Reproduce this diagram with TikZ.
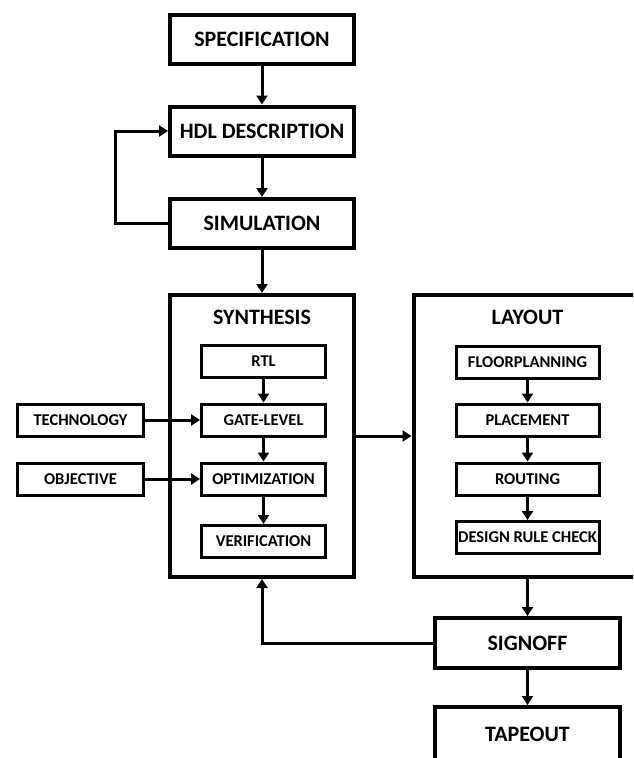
\documentclass[tikz,border=0pt]{standalone}
\usepackage{fontspec}
\setmainfont{Carlito}
\usetikzlibrary{arrows.meta}
\begin{document}
\begin{tikzpicture}[x=1pt,y=-1pt,
    bigbox/.style={draw,line width=4pt,minimum width=184pt,minimum height=49pt,inner sep=0pt,font=\bfseries\fontsize{22}{24}\selectfont},
    frame/.style={draw,line width=4pt,minimum height=282pt,inner sep=0pt},
    title/.style={font=\bfseries\fontsize{22}{24}\selectfont},
    smallbox/.style={draw,line width=3pt,minimum height=32pt,inner sep=0pt,font=\bfseries\fontsize{16.5}{18}\selectfont}]
  \clip (0,0) rectangle (633,758);
  \draw
    (262,39.5) node[bigbox] (spec){SPECIFICATION}
    (262,131) node[bigbox] (hdl){HDL DESCRIPTION}
    (262,223.5) node[bigbox] (sim){SIMULATION}
    (262,436) node[frame,minimum width=184pt] (synth){}
    (262,317) node[title] (synthtitle){SYNTHESIS}
    (263.5,361.5) node[smallbox,minimum width=124pt] (rtl){RTL}
    (263.5,420) node[smallbox,minimum width=124pt] (gate){GATE-LEVEL}
    (263.5,479) node[smallbox,minimum width=124pt] (opt){OPTIMIZATION}
    (263.5,541.5) node[smallbox,minimum width=124pt] (verif){VERIFICATION}
    (80.5,420) node[smallbox,minimum width=126pt] (tech){TECHNOLOGY}
    (80.5,479) node[smallbox,minimum width=126pt] (obj){OBJECTIVE}
    (527.5,436) node[frame,minimum width=228pt] (layout){}
    (527.5,317) node[title] (layouttitle){LAYOUT}
    (527.5,362.5) node[smallbox,minimum width=143pt] (floor){FLOORPLANNING}
    (527.5,420) node[smallbox,minimum width=143pt] (place){PLACEMENT}
    (527.5,479) node[smallbox,minimum width=143pt] (rout){ROUTING}
    (527.5,537.5) node[smallbox,minimum width=143pt] (drc){DESIGN RULE CHECK}
    (527.5,643) node[bigbox,minimum width=185pt,minimum height=50pt] (signoff){SIGNOFF}
    (527.5,734) node[bigbox,minimum width=185pt,minimum height=54pt] (tapeout){TAPEOUT};
  \begin{scope}[line width=3pt,-{Triangle[width=11pt,length=9pt]}]
    \draw (spec) to (hdl);
    \draw (hdl) to (sim);
    \draw (sim.west) -- ++(-53,0) |- (hdl.west);
    \draw (sim) to (synth);
    \draw (rtl) to (gate);
    \draw (gate) to (opt);
    \draw (opt) to (verif);
    \draw (tech) to (gate);
    \draw (obj) to (opt);
    \draw (synth) to (layout);
    \draw (floor) to (place);
    \draw (place) to (rout);
    \draw (rout) to (drc);
    \draw (layout) to (signoff);
    \draw (signoff.west) -| (synth.south);
    \draw (signoff) to (tapeout);
  \end{scope}
\end{tikzpicture}
\end{document}
